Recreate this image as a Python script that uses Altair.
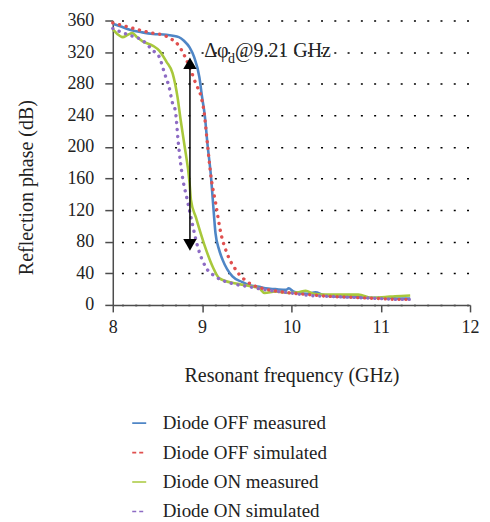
import altair as alt
import pandas as pd

series_names = ["Diode OFF measured", "Diode OFF simulated", "Diode ON measured", "Diode ON simulated"]
series_colors = ["#4f86c6", "#e0504f", "#a8c83c", "#8d6bc4"]

off_meas_f = [8.00, 8.10, 8.20, 8.33, 8.45, 8.60, 8.74, 8.80, 8.86, 8.91, 8.97, 9.00, 9.03, 9.06, 9.10, 9.12,
              9.15, 9.19, 9.23, 9.34, 9.45, 9.53, 9.64, 9.71, 9.82, 9.94, 9.97, 10.02, 10.08, 10.18, 10.27,
              10.35, 10.45, 10.60, 10.72, 10.85, 10.98, 11.10, 11.20, 11.33]
off_meas_p = [356, 352, 348, 345, 343, 342, 339, 334, 326, 314, 288, 263, 240, 204, 162, 133,
              91, 70, 57, 36, 29, 25, 23, 21, 20, 19, 21, 17, 15, 14, 16,
              13, 11, 10, 10, 9, 9, 9, 8, 8]

off_sim_f = [8.00, 8.10, 8.20, 8.33, 8.45, 8.55, 8.65, 8.74, 8.80, 8.86, 8.93, 8.99, 9.02, 9.06, 9.10, 9.15,
             9.21, 9.28, 9.38, 9.51, 9.67, 9.80, 10.00, 10.20, 10.40, 10.60, 10.80, 11.00, 11.20, 11.33]
off_sim_p = [357, 354, 351, 347, 344, 342, 337, 328, 316, 301, 280, 263, 246, 204, 162, 130,
             91, 65, 44, 29, 21, 18, 15, 13, 11, 10, 9, 8, 7, 7]

on_meas_f = [8.00, 8.05, 8.11, 8.17, 8.22, 8.27, 8.33, 8.45, 8.52, 8.60, 8.67, 8.725, 8.76, 8.80, 8.86, 8.875,
             8.93, 9.02, 9.12, 9.19, 9.38, 9.53, 9.64, 9.70, 9.82, 9.97, 10.08, 10.16, 10.25, 10.34, 10.50,
             10.65, 10.75, 10.90, 11.05, 11.16, 11.33]
on_meas_p = [349, 343, 339, 342, 344, 339, 334, 328, 322, 308, 293, 263, 234, 204, 154, 133,
             111, 78, 48, 34, 27, 24, 21, 15, 17, 15, 16, 18, 14, 13, 13,
             13, 13, 9, 10, 11, 12]

on_sim_f = [8.00, 8.10, 8.20, 8.33, 8.45, 8.52, 8.58, 8.63, 8.67, 8.70, 8.735, 8.78, 8.83, 8.875, 8.95, 9.04,
            9.15, 9.34, 9.53, 9.71, 9.85, 10.00, 10.20, 10.40, 10.60, 10.80, 11.00, 11.20, 11.33]
on_sim_p = [350, 345, 341, 335, 322, 314, 293, 276, 255, 246, 204, 162, 135, 111, 74, 48,
            36, 27, 23, 19, 17, 15, 12, 11, 10, 9, 8, 7, 7]

x_ticks = [8, 9, 10, 11, 12]
y_ticks = [0, 40, 80, 120, 160, 200, 240, 280, 320, 360]

arrow_freq = [8.864]
arrow_line_top = [307]
arrow_line_bottom = [76]
arrow_head_up = [306]
arrow_head_down = [76]

label_freq = [9.023]
label_phase = [313.6]

rows = []
for name, fs, ps, kind in [
    (series_names[0], off_meas_f, off_meas_p, "measured"),
    (series_names[1], off_sim_f, off_sim_p, "simulated"),
    (series_names[2], on_meas_f, on_meas_p, "measured"),
    (series_names[3], on_sim_f, on_sim_p, "simulated"),
]:
    for f, p in zip(fs, ps):
        rows.append({"series": name, "kind": kind, "freq": f, "phase": p})
df = pd.DataFrame(rows)

FONT = "Liberation Serif"
AX = "#4d4d4d"
TXT = "#222222"

x_scale = alt.Scale(domain=[8, 12], nice=False)
y_scale = alt.Scale(domain=[0, 360], nice=False)

x_axis = alt.Axis(
    values=x_ticks, format="d", grid=False,
    tickSize=7, labelPadding=7, labelFontSize=18, labelFont=FONT, labelColor=TXT,
    labelOverlap=False, labelFlush=False,
    domainColor=AX, domainWidth=1.5, tickColor=AX, tickWidth=1.5,
    titleX=179, titleY=77, titleBaseline="alphabetic", titleAlign="center",
    titleFontSize=20, titleFont=FONT, titleColor=TXT, titleFontWeight="normal",
)
y_axis = alt.Axis(
    values=y_ticks, format="d", grid=True,
    gridDash=[2, 11.3], gridDashOffset=4.6, gridColor="black", gridWidth=1.5, gridOpacity=1,
    tickSize=8, labelPadding=11, labelFontSize=18, labelFont=FONT, labelColor=TXT,
    labelOverlap=False, labelFlush=False,
    domainColor=AX, domainWidth=1.5, tickColor=AX, tickWidth=1.5,
    titleX=-80, titleY=167, titleBaseline="alphabetic", titleAlign="center",
    titleFontSize=20, titleFont=FONT, titleColor=TXT, titleFontWeight="normal",
)

x_enc = alt.X("freq:Q", scale=x_scale, axis=x_axis, title="Resonant frequency (GHz)")
y_enc = alt.Y("phase:Q", scale=y_scale, axis=y_axis, title="Reflection phase (dB)")

leg = alt.Legend(title=None, labelFont=FONT, labelFontSize=19, labelColor=TXT, labelLimit=400)
color_enc = alt.Color(
    "series:N",
    scale=alt.Scale(domain=series_names, range=series_colors),
    legend=leg,
)
dash_enc = alt.StrokeDash(
    "series:N",
    scale=alt.Scale(domain=series_names, range=[[1, 0], [4, 3], [1, 0], [4, 3]]),
    legend=leg,
)

legend_layer = alt.Chart(df).transform_filter("false").mark_line().encode(
    x=x_enc, y=y_enc, color=color_enc, strokeDash=dash_enc,
)

solid = alt.Chart(df).transform_filter(
    alt.FieldEqualPredicate(field="kind", equal="measured")
).mark_line(strokeWidth=2.6, interpolate="monotone").encode(
    x=x_enc, y=y_enc, color=color_enc, detail="series:N"
)

dotted = alt.Chart(df).transform_filter(
    alt.FieldEqualPredicate(field="kind", equal="simulated")
).mark_line(strokeWidth=3.4, strokeDash=[0.1, 6.8], strokeCap="round", interpolate="monotone").encode(
    x=x_enc, y=y_enc, color=color_enc, detail="series:N"
)

rule_df = pd.DataFrame({"freq": arrow_freq, "phase": arrow_line_top, "phase2": arrow_line_bottom})
arrow_line = alt.Chart(rule_df).mark_rule(color="black", strokeWidth=1.5).encode(
    x=x_enc, y=y_enc, y2="phase2:Q",
)
up_df = pd.DataFrame({"freq": arrow_freq, "phase": arrow_head_up})
down_df = pd.DataFrame({"freq": arrow_freq, "phase": arrow_head_down})
head_up = alt.Chart(up_df).mark_point(shape="triangle-up", filled=True, size=180, color="black", opacity=1).encode(
    x=x_enc, y=y_enc,
)
head_down = alt.Chart(down_df).mark_point(shape="triangle-down", filled=True, size=180, color="black", opacity=1).encode(
    x=x_enc, y=y_enc,
)

label_df = pd.DataFrame({"freq": label_freq, "phase": label_phase})
t1 = alt.Chart(label_df).mark_text(text="Δφ", align="left", baseline="alphabetic", fontSize=20, font=FONT, color=TXT).encode(
    x=x_enc, y=y_enc
)
t2 = alt.Chart(label_df).mark_text(text="d", align="left", baseline="alphabetic", fontSize=14, font=FONT, color=TXT, dx=24, dy=6).encode(
    x=x_enc, y=y_enc
)
t3 = alt.Chart(label_df).mark_text(text="@9.21 GHz", align="left", baseline="alphabetic", fontSize=20, font=FONT, color=TXT, dx=31).encode(
    x=x_enc, y=y_enc
)

chart = alt.layer(legend_layer, solid, dotted, arrow_line, head_up, head_down, t1, t2, t3).properties(
    width=358, height=285,
    autosize=alt.AutoSizeParams(type="none"),
    padding={"left": 105, "top": 12, "right": 12, "bottom": 216},
).configure(font=FONT).configure_view(stroke=None).configure_axis(
    labelFont=FONT, titleFont=FONT,
).configure_legend(
    orient="none", legendX=17, legendY=394, labelFont=FONT, labelFontSize=19, labelColor=TXT,
    labelLimit=400, symbolType="stroke", symbolSize=196, symbolStrokeWidth=1.6, labelOffset=14,
    rowPadding=9.5, padding=0,
)

chart.save("out.html", embed_options={"renderer": "svg", "actions": False})
